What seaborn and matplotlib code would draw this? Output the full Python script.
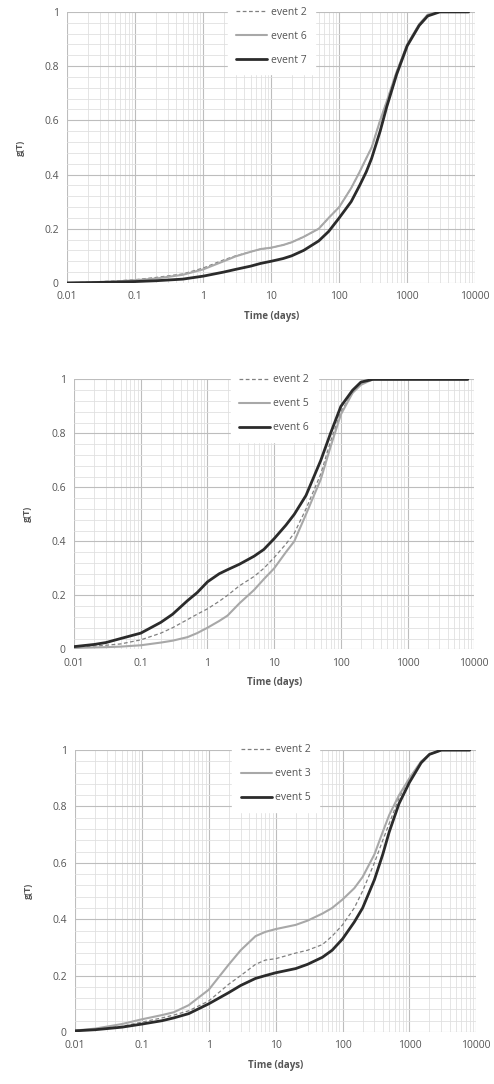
import numpy as np
import pandas as pd
import matplotlib
matplotlib.use('Agg')
import matplotlib.pyplot as plt
import seaborn as sns
from matplotlib.ticker import LogLocator, MultipleLocator, FixedLocator, FixedFormatter

sns.set_style('white')
plt.rcParams['font.family'] = ['Open Sans', 'DejaVu Sans']

# ---- data ----
t1 = [0.01, 0.02, 0.05, 0.1, 0.2, 0.5, 1, 2, 3, 5, 7, 10, 15, 20, 30, 50, 70,
      100, 150, 200, 250, 300, 400, 500, 700, 1000, 1500, 2000, 3000, 5000, 8000]
p1_ev2 = [0.0, 0.003, 0.007, 0.012, 0.02, 0.033, 0.055, 0.085, 0.1, 0.115, 0.125, 0.13, 0.14, 0.15, 0.17, 0.2, 0.24,
          0.28, 0.35, 0.41, 0.46, 0.5, 0.6, 0.67, 0.78, 0.88, 0.955, 0.99, 1.0, 1.0, 1.0]
p1_ev6 = [0.0, 0.002, 0.005, 0.01, 0.016, 0.03, 0.05, 0.08, 0.098, 0.115, 0.125, 0.13, 0.14, 0.15, 0.17, 0.2, 0.24,
          0.28, 0.35, 0.41, 0.46, 0.5, 0.6, 0.67, 0.78, 0.88, 0.955, 0.99, 1.0, 1.0, 1.0]
p1_ev7 = [0.0, 0.001, 0.003, 0.005, 0.008, 0.014, 0.025, 0.04, 0.05, 0.062, 0.072, 0.08, 0.09, 0.1, 0.12, 0.155, 0.19,
          0.24, 0.3, 0.36, 0.41, 0.46, 0.56, 0.65, 0.77, 0.875, 0.95, 0.985, 1.0, 1.0, 1.0]

t2 = [0.01, 0.02, 0.03, 0.05, 0.1, 0.2, 0.3, 0.5, 0.7, 1, 1.5, 2, 3, 5, 7, 10, 15, 20, 30, 50, 70,
      100, 150, 200, 300, 500, 1000, 3000, 8000]
p2_ev2 = [0.008, 0.012, 0.015, 0.02, 0.035, 0.06, 0.08, 0.11, 0.13, 0.15, 0.178, 0.2, 0.235, 0.27, 0.3, 0.34, 0.39, 0.43, 0.52, 0.65, 0.77,
          0.88, 0.95, 0.985, 1.0, 1.0, 1.0, 1.0, 1.0]
p2_ev5 = [0.005, 0.007, 0.008, 0.01, 0.015, 0.025, 0.032, 0.045, 0.06, 0.08, 0.105, 0.125, 0.17, 0.22, 0.26, 0.3, 0.36, 0.4, 0.5, 0.63, 0.75,
          0.87, 0.95, 0.98, 1.0, 1.0, 1.0, 1.0, 1.0]
p2_ev6 = [0.01, 0.018, 0.025, 0.04, 0.06, 0.1, 0.13, 0.18, 0.21, 0.25, 0.28, 0.295, 0.315, 0.345, 0.37, 0.41, 0.46, 0.5, 0.57, 0.7, 0.8,
          0.9, 0.96, 0.99, 1.0, 1.0, 1.0, 1.0, 1.0]

t3 = [0.01, 0.02, 0.05, 0.1, 0.2, 0.3, 0.5, 1, 2, 3, 5, 7, 10, 20, 30, 50, 70, 100,
      150, 200, 300, 400, 500, 700, 1000, 1500, 2000, 3000, 5000, 8000]
p3_ev2 = [0.005, 0.01, 0.02, 0.035, 0.05, 0.06, 0.075, 0.11, 0.17, 0.2, 0.24, 0.255, 0.26, 0.28, 0.29, 0.31, 0.34, 0.38,
          0.44, 0.5, 0.6, 0.68, 0.74, 0.83, 0.9, 0.96, 0.985, 1.0, 1.0, 1.0]
p3_ev3 = [0.005, 0.012, 0.028, 0.045, 0.06, 0.07, 0.095, 0.15, 0.24, 0.29, 0.34, 0.355, 0.365, 0.38, 0.395, 0.42, 0.44, 0.47,
          0.51, 0.55, 0.63, 0.71, 0.77, 0.84, 0.9, 0.96, 0.985, 1.0, 1.0, 1.0]
p3_ev5 = [0.004, 0.008, 0.017, 0.028, 0.04, 0.05, 0.065, 0.1, 0.14, 0.165, 0.19, 0.2, 0.21, 0.225, 0.24, 0.265, 0.29, 0.33,
          0.39, 0.44, 0.54, 0.63, 0.71, 0.81, 0.885, 0.955, 0.985, 1.0, 1.0, 1.0]

x_ticks = [0.01, 0.1, 1, 10, 100, 1000, 10000]
x_labels = ['0.01', '0.1', '1', '10', '100', '1000', '10000']
y_ticks = [0, 0.2, 0.4, 0.6, 0.8, 1]
y_labels = ['0', '0.2', '0.4', '0.6', '0.8', '1']

panels = [
    (t1, [('event 2', p1_ev2), ('event 6', p1_ev6), ('event 7', p1_ev7)]),
    (t2, [('event 2', p2_ev2), ('event 5', p2_ev5), ('event 6', p2_ev6)]),
    (t3, [('event 2', p3_ev2), ('event 3', p3_ev3), ('event 5', p3_ev5)]),
]
# [left, bottom, width, height] in figure fractions
boxes = [
    [0.136, 0.739, 0.826, 0.250],
    [0.150, 0.401, 0.810, 0.249],
    [0.152, 0.048, 0.812, 0.260],
]
styles = [
    dict(color='#808080', lw=0.9, ls=(0, (3, 2))),
    dict(color='#a8a8a8', lw=1.5, ls='-'),
    dict(color='#2b2b2b', lw=2.0, ls='-'),
]

fig = plt.figure(figsize=(4.94, 10.84), dpi=100)

for (t, series), box in zip(panels, boxes):
    ax = fig.add_axes(box)
    rows = []
    for name, vals in series:
        rows.append(pd.DataFrame({'t': t, 'g': vals, 'event': name}))
    df = pd.concat(rows, ignore_index=True)

    for (name, _), st in zip(series, styles):
        sub = df[df['event'] == name]
        sns.lineplot(data=sub, x='t', y='g', ax=ax, color=st['color'],
                     linewidth=st['lw'], linestyle=st['ls'], label=name)

    ax.set_xscale('log')
    ax.set_xlim(0.01, 10000)
    ax.set_ylim(0, 1)
    ax.xaxis.set_major_locator(FixedLocator(x_ticks))
    ax.xaxis.set_major_formatter(FixedFormatter(x_labels))
    ax.xaxis.set_minor_locator(LogLocator(base=10, subs=np.arange(2, 10), numticks=20))
    ax.yaxis.set_major_locator(FixedLocator(y_ticks))
    ax.yaxis.set_major_formatter(FixedFormatter(y_labels))
    ax.yaxis.set_minor_locator(MultipleLocator(0.04))

    ax.grid(which='major', color='#bdbdbd', lw=0.8)
    ax.grid(which='minor', color='#e0e0e0', lw=0.6)
    ax.set_axisbelow(True)
    for s in ax.spines.values():
        s.set_visible(False)
    ax.tick_params(which='both', length=0, labelsize=7.5, labelcolor='#555555', pad=6)

    ax.set_xlabel('Time (days)', fontsize=7, fontweight='bold', color='#555555', labelpad=6)
    ax.set_ylabel('g(T)', fontsize=6.5, fontweight='bold', color='#555555', labelpad=14)

    leg = ax.legend(loc='upper center', bbox_to_anchor=(0.5, 1.05), frameon=True,
                    fontsize=7.5, labelspacing=1.25, handlelength=3.0,
                    borderpad=0.8, handletextpad=0.3, borderaxespad=0)
    leg.get_frame().set_facecolor('white')
    leg.get_frame().set_edgecolor('white')
    leg.get_frame().set_alpha(1)
    leg.get_frame().set_boxstyle('square', pad=0)
    for txt in leg.get_texts():
        txt.set_color('#555555')

fig.savefig('out.png', dpi=100, facecolor='white')
